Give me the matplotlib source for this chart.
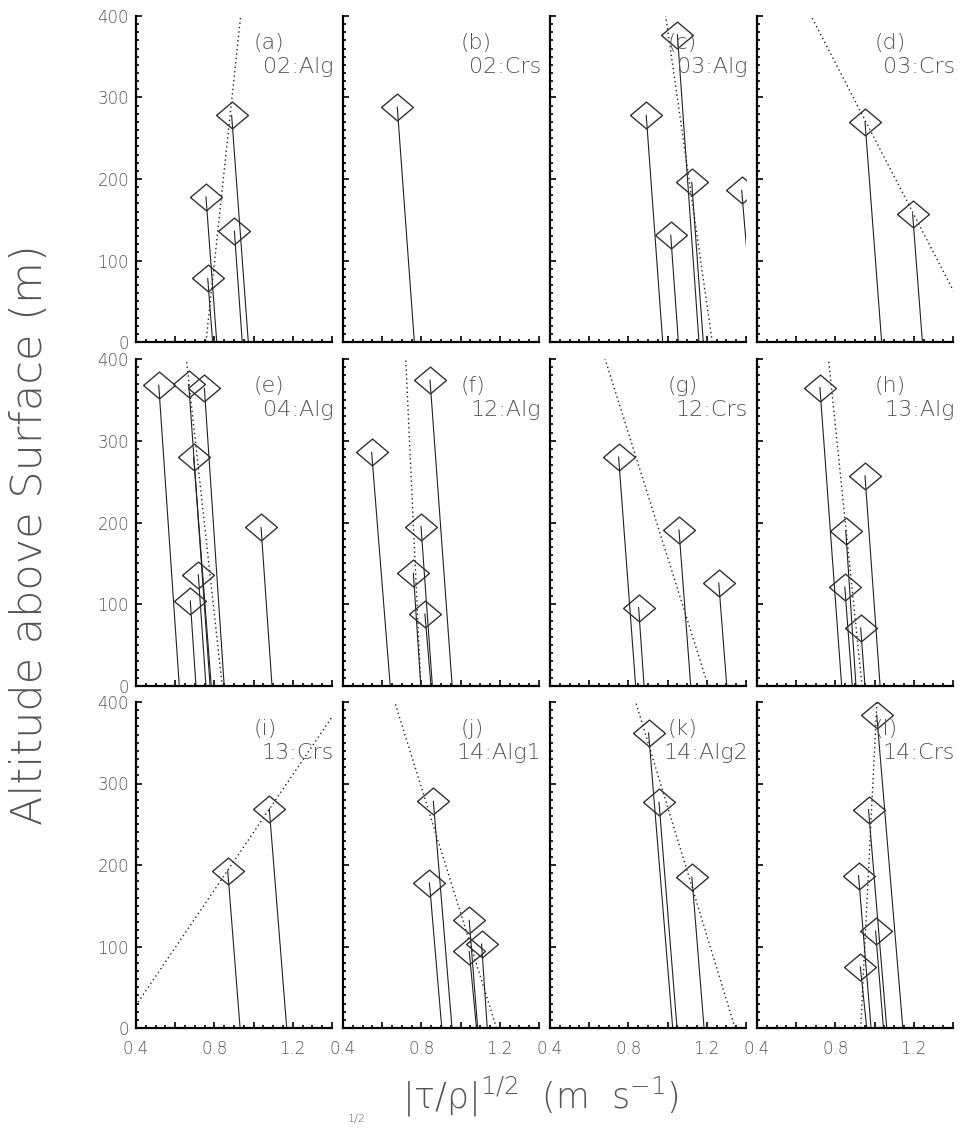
import numpy as np
import matplotlib
matplotlib.use("Agg")
import matplotlib.pyplot as plt
from matplotlib.ticker import MultipleLocator, FuncFormatter

# thin strokes everywhere, maths included
plt.rcParams['mathtext.fontset'] = 'custom'
plt.rcParams['mathtext.rm'] = 'DejaVu Sans:light'
plt.rcParams['mathtext.it'] = 'DejaVu Sans:light'
plt.rcParams['mathtext.bf'] = 'DejaVu Sans:light'

# =========================
# Data: stress profiles per flight leg
# =========================
panel_tags = ['(a)', '(b)', '(c)', '(d)', '(e)', '(f)',
              '(g)', '(h)', '(i)', '(j)', '(k)', '(l)']
panel_names = ['02:Alg', '02:Crs', '03:Alg', '03:Crs', '04:Alg', '12:Alg',
               '12:Crs', '13:Alg', '13:Crs', '14:Alg1', '14:Alg2', '14:Crs']

# |tau/rho|^1/2 at flight level (m/s)
ustar = [
    [0.888, 0.757, 0.766, 0.902],
    [0.677],
    [1.050, 0.891, 1.123, 1.016, 1.378],
    [0.951, 1.194],
    [0.516, 0.669, 0.749, 0.694, 0.718, 0.677, 1.038],
    [0.546, 0.844, 0.798, 0.759, 0.818],
    [0.750, 0.852, 1.058, 1.261],
    [0.721, 0.951, 0.853, 0.848, 0.929],
    [0.868, 1.080],
    [0.861, 0.841, 1.044, 1.044, 1.107],
    [0.903, 0.956, 1.124],
    [1.011, 0.969, 0.918, 1.005, 0.927],
]

# flight altitude (m)
altitude = [
    [278, 178, 78, 136],
    [288],
    [377, 278, 196, 131, 186],
    [270, 157],
    [368, 369, 364, 280, 136, 104, 194],
    [286, 374, 195, 138, 88],
    [280, 96, 191, 126],
    [365, 257, 190, 121, 71],
    [193, 269],
    [278, 178, 132, 94, 103],
    [362, 277, 185],
    [384, 268, 187, 119, 75],
]

# extrapolated surface value for each leg
ustar_sfc = [
    [0.973, 0.812, 0.791, 0.942],
    [0.764],
    [1.160, 0.975, 1.182, 1.055, 1.443],
    [1.036, 1.244],
    [0.621, 0.778, 0.850, 0.784, 0.757, 0.706, 1.094],
    [0.641, 0.957, 0.856, 0.797, 0.849],
    [0.837, 0.880, 1.118, 1.302],
    [0.832, 1.028, 0.905, 0.886, 0.951],
    [0.931, 1.169],
    [0.956, 0.904, 1.087, 1.081, 1.136],
    [1.026, 1.048, 1.186],
    [1.144, 1.062, 0.982, 1.045, 0.960],
]

# linear fit of the profile: value at 0 m and at 400 m (None = no fit)
fit_bottom = [0.757, None, 1.228, 1.537, 0.840, 0.797,
              1.207, 0.936, 0.321, 1.183, 1.344, 0.929]
fit_top = [0.934, None, 0.990, 0.676, 0.657, 0.720,
           0.681, 0.765, 1.452, 0.664, 0.837, 1.012]

# =========================
# Layout
# =========================
W, H = 961, 1128
col_left = [136, 343, 550, 757]
panel_w = 196
row_span = [(16, 342), (359, 686), (702, 1028)]

txt_col = '#555555'
txt_w = 'light'
diamond = [(-1, 0), (0, 0.84), (1, 0), (0, -0.84), (-1, 0)]

fig = plt.figure(figsize=(W / 100, H / 100), dpi=100)


def xfmt(v, pos):
    k = int(round(v * 10))
    return '%.1f' % v if k in (4, 8, 12) else ''


for i in range(12):
    r, c = divmod(i, 4)
    top, bot = row_span[r]
    ax = fig.add_axes([col_left[c] / W, 1 - bot / H, panel_w / W, (bot - top) / H])
    ax.set_xlim(0.4, 1.4)
    ax.set_ylim(0, 400)

    # fitted profile
    if fit_bottom[i] is not None:
        ax.plot([fit_bottom[i], fit_top[i]], [0, 400], color='#222222',
                lw=1.0, linestyle=(0, (1, 2.2)))

    # extrapolation of each leg down to the surface
    for u, z, u0 in zip(ustar[i], altitude[i], ustar_sfc[i]):
        ax.plot([u, u0], [z, 0], color='#222222', lw=0.8)

    ax.plot(ustar[i], altitude[i], linestyle='none', marker=diamond,
            markersize=23, markerfacecolor='none', markeredgecolor='#333333',
            markeredgewidth=1.0)

    ax.text(1.0, 367, panel_tags[i], fontsize=16, color=txt_col,
            fontweight=txt_w, ha='left', va='center')
    ax.text(1.41, 338, panel_names[i], fontsize=16, color=txt_col,
            fontweight=txt_w, ha='right', va='center')

    for side in ('top', 'right'):
        ax.spines[side].set_visible(False)
    for side in ('left', 'bottom'):
        ax.spines[side].set_linewidth(1.6)

    ax.xaxis.set_major_locator(MultipleLocator(0.2))
    ax.xaxis.set_minor_locator(MultipleLocator(0.05))
    ax.xaxis.set_major_formatter(FuncFormatter(xfmt))
    ax.yaxis.set_major_locator(MultipleLocator(100))
    ax.yaxis.set_minor_locator(MultipleLocator(10))

    ax.tick_params(which='both', direction='in', top=False, right=False,
                   colors='black', labelcolor=txt_col, labelsize=12, width=1.2)
    ax.tick_params(which='major', length=4.5)
    ax.tick_params(which='minor', length=2.2)
    ax.tick_params(axis='x', pad=9)
    ax.tick_params(axis='y', pad=5)
    ax.tick_params(labelleft=(c == 0), labelbottom=(r == 2))
    for lab in ax.get_xticklabels() + ax.get_yticklabels():
        lab.set_fontweight(txt_w)

fig.text(0.031, 0.526, 'Altitude above Surface (m)', rotation=90,
         fontsize=31, color=txt_col, fontweight=txt_w,
         ha='center', va='center')
fig.text(0.562, 0.0275, r'$|\tau/\rho|^{1/2}$  (m  s$^{-1}$)',
         fontsize=25, color=txt_col, fontweight=txt_w,
         ha='center', va='center')
fig.text(348 / W, 0.0035, '1/2', fontsize=8, color=txt_col,
         fontweight=txt_w, ha='left', va='bottom')

fig.savefig('out.png', dpi=100)
